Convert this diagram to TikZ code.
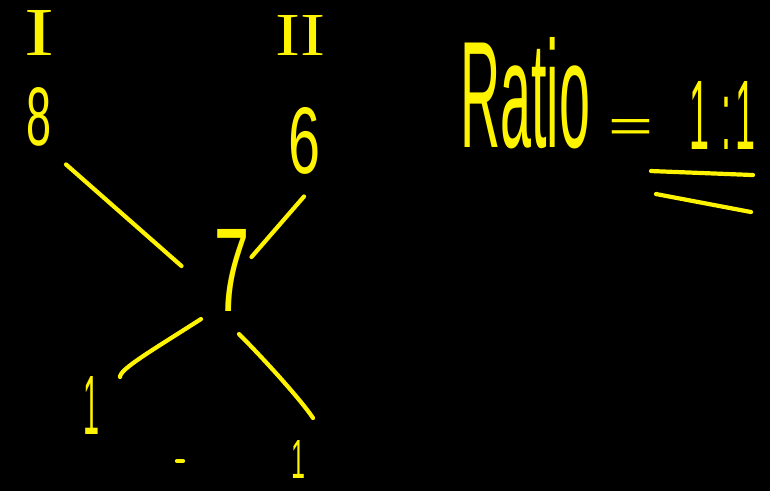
\documentclass[tikz,border=0pt]{standalone}
\usepackage{fontspec}
\setmainfont{Liberation Sans}
\newfontfamily\romanfont{Liberation Serif}
\usepackage{graphicx}
\usetikzlibrary{calc}
\definecolor{hw}{RGB}{255,244,0}
\begin{document}
\begin{tikzpicture}[x=1pt,y=-1pt,
  stroke/.style={draw=hw, line width=4.2pt, line cap=round, line join=round},
  lbl/.style={text=hw, inner sep=0pt, outer sep=0pt, anchor=center}]
\fill[black] (0,0) rectangle (770,491);
\useasboundingbox (0,0) rectangle (770,491);
% labels
\node[lbl] (one) at (39,33) {\resizebox{30pt}{45pt}{\romanfont I}};
\node[lbl] (two) at (300,35) {\resizebox{50pt}{40pt}{\romanfont II}};
\node[lbl] (eight) at (39,117) {\resizebox{25pt}{58pt}{8}};
\node[lbl] (six) at (305,141) {\resizebox{32pt}{66pt}{6}};
\node[lbl] (seven) at (232,270) {\resizebox{35pt}{82pt}{7}};
\node[lbl] (oneL) at (91,405) {\resizebox{16pt}{58pt}{1}};
\node[lbl] (oneR) at (298,459) {\resizebox{14pt}{38pt}{1}};
\draw[stroke] (177,461) -- (183,461);
% ratio
\node[lbl] (ratio) at (525,93) {\resizebox{130pt}{110pt}{Ratio}};
\node[lbl] (eq) at (631,130) {\resizebox{45pt}{22pt}{=}};
\node[lbl] (ratio11) at (722,115) {\resizebox{66pt}{68pt}{1\hspace{0.35em}:\hspace{0.1em}1}};
\draw[stroke] ($(ratio11.south west)+(-38,22)$) -- ($(ratio11.south east)+(-2,26)$);
\draw[stroke] ($(ratio11.south west)+(-33,45)$) -- ($(ratio11.south east)+(-4,63)$);
% connectors
\draw[stroke] ($(eight.south)+(27,18)$) -- ($(seven.west)+(-33,-4)$);
\draw[stroke] ($(six.south)+(-1,22)$) -- ($(seven.east)+(2,-13)$);
\draw[stroke] ($(seven.south)+(-31,8)$) .. controls +(-50,32) and +(0,-8) .. ($(oneL.north)+(29,1)$);
\draw[stroke] ($(seven.south)+(7,23)$) .. controls +(25,25) and +(-12,-18) .. ($(oneR.north)+(15,-22)$);
\end{tikzpicture}
\end{document}
